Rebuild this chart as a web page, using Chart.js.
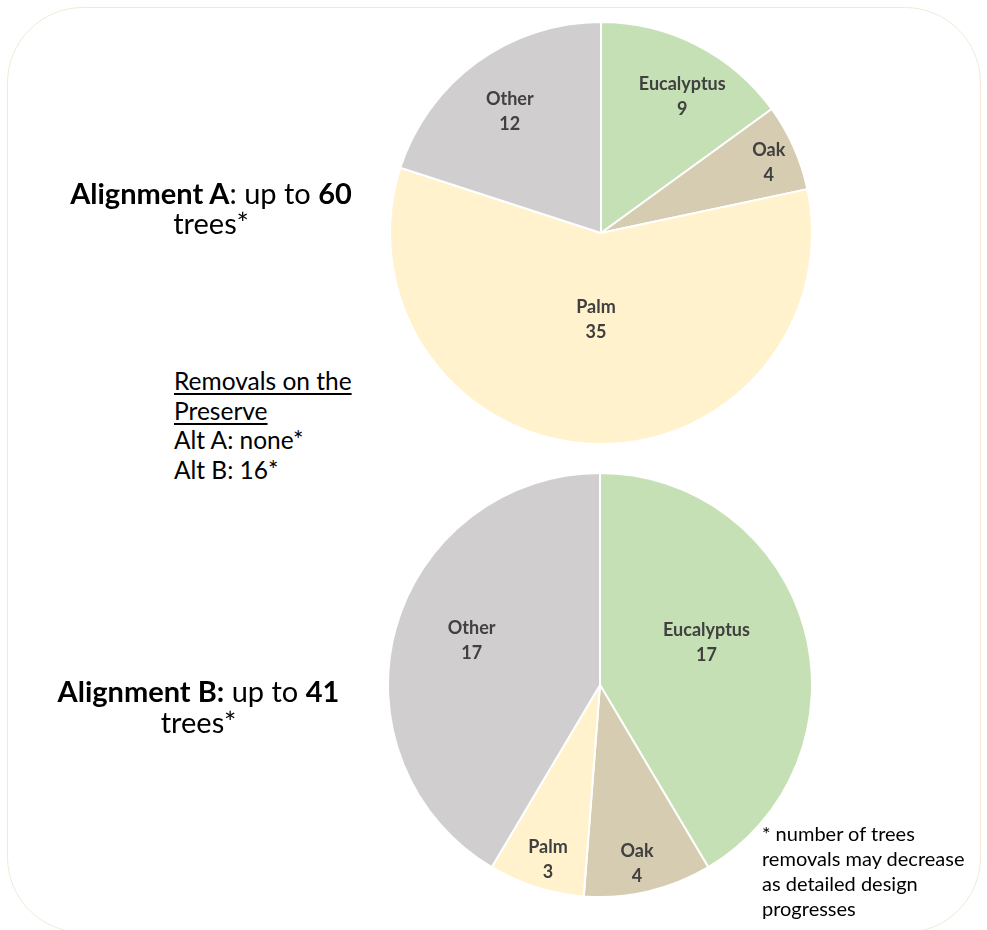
<!DOCTYPE html>
<html>
<head>
<meta charset="utf-8">
<script src="https://cdn.jsdelivr.net/npm/chart.js@4.4.0/dist/chart.umd.min.js"></script>
<style>
  html, body { margin:0; padding:0; background:#fff; }
  body { width:987px; height:930px; position:relative; overflow:hidden; font-family: Lato, "Open Sans", sans-serif; color:#000; }
  #frame { position:absolute; left:7px; top:7px; width:974px; height:926px; border:1.5px solid #f3e9d9; border-radius:76px; box-sizing:border-box; }
  .cv { position:absolute; }
  .title { position:absolute; text-align:center; font-size:29px; line-height:30px; white-space:nowrap; }
  .title b { font-weight:700; }
  #removals { position:absolute; left:174px; top:366px; font-size:24.5px; line-height:29.5px; white-space:nowrap; }
  #removals u { text-decoration-thickness:1.5px; text-underline-offset:3px; }
  #note { position:absolute; left:762px; top:821px; font-size:20px; line-height:25px; white-space:nowrap; }
</style>
</head>
<body>
<div id="frame"></div>
<canvas id="pieA" class="cv" width="424" height="424" style="left:389px; top:21px;"></canvas>
<canvas id="pieB" class="cv" width="426" height="426" style="left:387px; top:472px;"></canvas>
<div class="title" style="left:0; width:422px; top:178px;"><b>Alignment A</b>: up to <b>60</b><br>trees*</div>
<div class="title" style="left:0; width:397px; top:675px; line-height:31px;"><b>Alignment B:</b> up to <b>41</b><br>trees*</div>
<div id="removals"><u>Removals on the</u><br><u>Preserve</u><br>Alt A: none*<br>Alt B: 16*</div>
<div id="note">* number of trees<br>removals may decrease<br>as detailed design<br>progresses</div>
<script>
const categories = ["Eucalyptus", "Oak", "Palm", "Other"];
const valuesA = [9, 4, 35, 12];
const valuesB = [17, 4, 3, 17];
const sliceColors = ["#c5e0b4", "#d6ccb1", "#fff2cc", "#d0cece"];
const labelRadiusA = [0.752, 0.862, 0.41, 0.72];
const labelShiftA = [3.8, 1.3, 0.3, -0.9];
const labelRadiusB = [0.54, 0.862, 0.86, 0.64];
const labelShiftB = [-6.2, 1.5, -1, 3.6];

const sliceLabels = {
  id: 'sliceLabels',
  afterDatasetsDraw(chart, args, opts) {
    const ctx = chart.ctx;
    const meta = chart.getDatasetMeta(0);
    const ds = chart.data.datasets[0];
    ctx.save();
    ctx.fillStyle = '#404040';
    ctx.font = 'bold 18px Lato, "Open Sans", sans-serif';
    ctx.textAlign = 'center';
    ctx.textBaseline = 'middle';
    meta.data.forEach((arc, i) => {
      const p = arc.getProps(['x','y','startAngle','endAngle','outerRadius'], true);
      const mid = (p.startAngle + p.endAngle) / 2 + opts.shifts[i] * Math.PI / 180;
      const r = p.outerRadius * opts.radii[i];
      const x = p.x + Math.cos(mid) * r;
      const y = p.y + Math.sin(mid) * r;
      ctx.fillText(chart.data.labels[i], x, y - 12.5);
      ctx.fillText(String(ds.data[i]), x, y + 12.5);
    });
    ctx.restore();
  }
};

function makePie(id, values, radii, shifts) {
  return new Chart(document.getElementById(id), {
    type: 'pie',
    data: {
      labels: categories,
      datasets: [{ data: values, backgroundColor: sliceColors, borderColor: '#ffffff', borderWidth: 2 }]
    },
    options: {
      responsive: false,
      animation: false,
      layout: { padding: 0 },
      plugins: {
        legend: { display: false },
        tooltip: { enabled: false },
        sliceLabels: { radii: radii, shifts: shifts }
      }
    },
    plugins: [sliceLabels]
  });
}
makePie('pieA', valuesA, labelRadiusA, labelShiftA);
makePie('pieB', valuesB, labelRadiusB, labelShiftB);
</script>
</body>
</html>
